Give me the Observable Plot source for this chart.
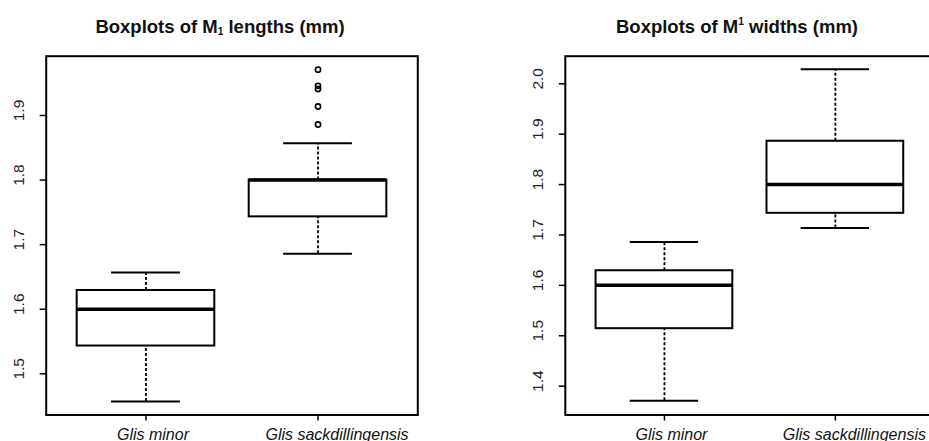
<!DOCTYPE html>
<html>
<head>
<meta charset="utf-8">
<script src="https://cdn.jsdelivr.net/npm/d3@7"></script>
<script src="https://cdn.jsdelivr.net/npm/@observablehq/plot@0.6"></script>
<style>
  html, body { margin: 0; padding: 0; background: #ffffff; width: 929px; height: 441px; overflow: hidden; position: relative; }
  .panel { position: absolute; top: 0; width: 470px; height: 441px; }
  .panel svg { max-width: none !important; width: 470px; height: 441px; display: block; }
  .title { position: absolute; font-family: "Liberation Sans", Arial, sans-serif; font-weight: bold; font-size: 18.5px; line-height: 20px; color: #111; text-align: center; white-space: nowrap; width: 400px; }
  .title sub, .title sup { font-size: 55%; line-height: 0; }
  .title sub { vertical-align: -0.15em; }
  .title sup { vertical-align: 0.75em; }
</style>
</head>
<body>
<div id="left" class="panel" style="left:0px"></div>
<div id="right" class="panel" style="left:470px"></div>
<div class="title" style="left:20px; top:17px">Boxplots of M<sub>1</sub> lengths (mm)</div>
<div class="title" style="left:537px; top:17px">Boxplots of M<sup>1</sup> widths (mm)</div>
<script>
// Categories
const species = ["Glis minor", "Glis sackdillingensis"];

// M1 lengths (mm): box statistics per species
const lengthLowerWhisker = [1.457, 1.686];
const lengthQ1 = [1.543, 1.743];
const lengthMedian = [1.600, 1.800];
const lengthQ3 = [1.629, 1.800];
const lengthUpperWhisker = [1.657, 1.857];
const lengthOutliers = [[], [1.886, 1.914, 1.941, 1.946, 1.971]];
const lengthTicks = [1.5, 1.6, 1.7, 1.8, 1.9];
const lengthDomain = [1.4362, 1.9918];

// M1 widths (mm): box statistics per species
const widthLowerWhisker = [1.371, 1.714];
const widthQ1 = [1.514, 1.743];
const widthMedian = [1.600, 1.800];
const widthQ3 = [1.629, 1.886];
const widthUpperWhisker = [1.686, 2.029];
const widthOutliers = [[], []];
const widthTicks = [1.4, 1.5, 1.6, 1.7, 1.8, 1.9, 2.0];
const widthDomain = [1.3427, 2.0548];

function makeBoxplot(lo, q1, med, q3, hi, outl, ticks, yDomain, margins) {
  const boxes = species.map((s, i) => ({
    species: s, pos: i + 1, lo: lo[i], q1: q1[i], med: med[i], q3: q3[i], hi: hi[i]
  }));
  const outliers = [];
  outl.forEach((arr, i) => arr.forEach(v => outliers.push({pos: i + 1, value: v})));
  const halfBox = 0.4, halfCap = 0.2;
  const labelShift = [7, 19];
  return Plot.plot({
    width: 470,
    height: 441,
    marginLeft: margins.left,
    marginRight: margins.right,
    marginTop: 55.7,
    marginBottom: 26.5,
    style: {fontFamily: "'Liberation Sans', Arial, sans-serif", fontSize: "15.5px", color: "#000", background: "transparent", overflow: "visible"},
    x: {domain: [0.42, 2.58], axis: null},
    y: {domain: yDomain, axis: null},
    marks: [
      // whiskers (dashed)
      Plot.ruleX(boxes, {x: "pos", y1: "q3", y2: "hi", stroke: "#000", strokeWidth: 1.8, strokeDasharray: "3,2"}),
      Plot.ruleX(boxes, {x: "pos", y1: "lo", y2: "q1", stroke: "#000", strokeWidth: 1.8, strokeDasharray: "3,2"}),
      // staples
      Plot.ruleY(boxes, {y: "hi", x1: d => d.pos - halfCap, x2: d => d.pos + halfCap, stroke: "#000", strokeWidth: 2}),
      Plot.ruleY(boxes, {y: "lo", x1: d => d.pos - halfCap, x2: d => d.pos + halfCap, stroke: "#000", strokeWidth: 2}),
      // boxes
      Plot.rect(boxes, {x1: d => d.pos - halfBox, x2: d => d.pos + halfBox, y1: "q1", y2: "q3", fill: "white", stroke: "#000", strokeWidth: 2}),
      // medians
      Plot.ruleY(boxes, {y: "med", x1: d => d.pos - halfBox, x2: d => d.pos + halfBox, stroke: "#000", strokeWidth: 3.5}),
      // outliers
      Plot.dot(outliers, {x: "pos", y: "value", r: 2.6, stroke: "#000", strokeWidth: 1.6, fill: "none"}),
      // frame
      Plot.frame({stroke: "#000", strokeWidth: 2}),
      // y ticks and rotated labels
      Plot.axisY(ticks, {tickSize: 6, tickFormat: () => "", label: null, stroke: "#000", strokeWidth: 1.5}),
      Plot.text(ticks, {y: d => d, text: d => d.toFixed(1), frameAnchor: "left", rotate: -90, dx: -22, dy: -5, textAnchor: "middle", lineAnchor: "bottom", fill: "#222", fontSize: 15.5}),
      // x ticks and labels
      Plot.axisX([1, 2], {tickSize: 6, tickFormat: () => "", label: null, stroke: "#000", strokeWidth: 1.5}),
      Plot.text(boxes.slice(0, 1), {x: "pos", text: "species", frameAnchor: "bottom", dx: labelShift[0], dy: 24.5, lineAnchor: "bottom", fontStyle: "italic", fill: "#111", fontSize: 16}),
      Plot.text(boxes.slice(1, 2), {x: "pos", text: "species", frameAnchor: "bottom", dx: labelShift[1], dy: 24.5, lineAnchor: "bottom", fontStyle: "italic", fill: "#111", fontSize: 16})
    ]
  });
}

document.getElementById("left").appendChild(
  makeBoxplot(lengthLowerWhisker, lengthQ1, lengthMedian, lengthQ3, lengthUpperWhisker, lengthOutliers, lengthTicks, lengthDomain, {left: 45.7, right: 52.7})
);
document.getElementById("right").appendChild(
  makeBoxplot(widthLowerWhisker, widthQ1, widthMedian, widthQ3, widthUpperWhisker, widthOutliers, widthTicks, widthDomain, {left: 94.8, right: 6})
);
</script>
</body>
</html>
